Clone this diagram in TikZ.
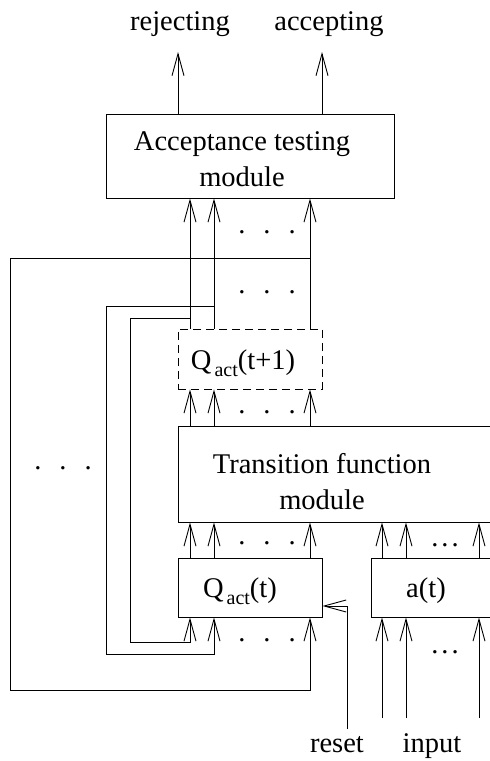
\documentclass[tikz,border=0pt]{standalone}
\usepackage{fontspec}
\setmainfont{Liberation Serif}
\usetikzlibrary{arrows.meta}
\newcommand{\qact}[1]{Q\hspace{3pt}\raisebox{-7pt}{\fontsize{20}{20}\selectfont act}(#1)}
\newcommand{\wdots}{.\hspace{18pt}.\hspace{18pt}.}
\newcommand{\ndots}{.\hspace{3pt}.\hspace{3pt}.}

\begin{document}
\begin{tikzpicture}[x=1pt, y=-1pt, line width=0.9pt,
    font=\fontsize{28.5}{36}\selectfont,
    box/.style={draw, inner sep=0pt},
    dashbox/.style={box, dash pattern=on 8pt off 5pt},
    lbl/.style={inner sep=0pt},
    arr/.style={-{Straight Barb[length=22pt,width=12pt]}}]
  \useasboundingbox (0,0) rectangle (490,761);

  % modules
  \node[box, minimum width=288pt, minimum height=84pt] (accept) at (250,156) {};
  \node[dashbox, minimum width=144pt, minimum height=60pt] (qnext) at (250,359) {};
  \node[box, minimum width=332pt, minimum height=96pt] (trans) at (344,474) {};
  \node[box, minimum width=144pt, minimum height=59pt] (qcur) at (250,587.5) {};
  \node[box, minimum width=139pt, minimum height=59pt] (ain) at (440.5,587.5) {};

  \node[lbl, align=center] (accepttxt) at (242,159) {Acceptance testing\\module};
  \node[lbl, align=center] (transtxt) at (322,482) {Transition function\\module};
  \node[lbl, anchor=base] (qnexttxt) at (243,369) {\qact{t+1}};
  \node[lbl, anchor=base] (qcurtxt) at (240,597) {\qact{t}};
  \node[lbl, anchor=base] (aintxt) at (426,597) {a(t)};

  % outputs and inputs
  \node[lbl, anchor=base] (rejecting) at (180,30) {rejecting};
  \node[lbl, anchor=base] (accepting) at (329,30) {accepting};
  \node[lbl, anchor=base] (reset) at (337,752) {reset};
  \node[lbl, anchor=base] (input) at (432,752) {input};

  \coordinate (rejtip) at (178,52);
  \coordinate (acctip) at (322,52);
  \draw[arr] (accept.north -| rejtip) -- (rejtip);
  \draw[arr] (accept.north -| acctip) -- (acctip);

  % state lines
  \coordinate (c1) at (190,0);
  \coordinate (c2) at (214,0);
  \coordinate (c3) at (310,0);
  \foreach \c in {c1,c2,c3} {
    \draw[arr] (qnext.north -| \c) -- (accept.south -| \c);
    \draw[arr] (trans.north -| \c) -- (qnext.south -| \c);
    \draw[arr] (qcur.north -| \c) -- (trans.south -| \c);
  }

  % feedback
  \draw[arr] (c3 |- 0,258) -| (10,690) -| (qcur.south -| c3);
  \draw[arr] (c2 |- 0,306) -| (106,654) -| (qcur.south -| c2);
  \draw[arr] (c1 |- 0,318) -| (130,642) -| (qcur.south -| c1);

  % input lines
  \coordinate (d1) at (382,718);
  \coordinate (d2) at (406,718);
  \coordinate (d3) at (479,718);
  \foreach \d in {d1,d2,d3} {
    \draw[arr] (ain.north -| \d) -- (trans.south -| \d);
    \draw[arr] (\d) -- (ain.south -| \d);
  }

  \coordinate (resetend) at (347,729);
  \draw[arr] (resetend) |- ([yshift=-18.5pt]qcur.east);

  % dots
  \foreach \y/\n in {233.5/dotsA, 293.5/dotsB, 413.5/dotsC, 544.5/dotsD, 641.5/dotsE}
    \node[lbl, anchor=base] (\n) at (267,\y) {\wdots};
  \node[lbl, anchor=base] (dotsL) at (63,469.5) {\wdots};
  \node[lbl, anchor=base] (dotsF) at (445,546.5) {\ndots};
  \node[lbl, anchor=base] (dotsG) at (445,653.5) {\ndots};
\end{tikzpicture}
\end{document}
